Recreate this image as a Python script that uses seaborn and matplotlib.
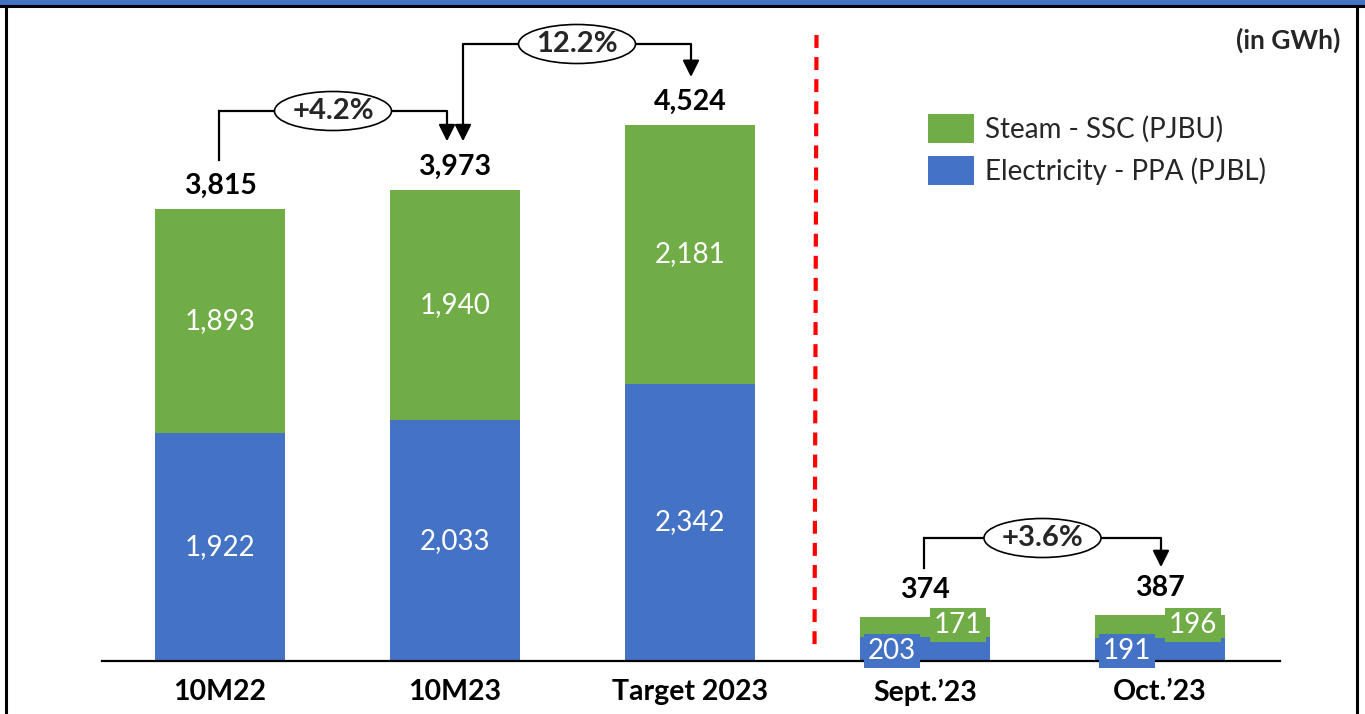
import matplotlib
matplotlib.use("Agg")
import matplotlib.pyplot as plt
import seaborn as sns
import pandas as pd
from matplotlib.patches import Rectangle, Ellipse, Patch
from matplotlib.lines import Line2D

# ---------------- data ----------------
categories = ["10M22", "10M23", "Target 2023", "Sept.'23", "Oct.'23"]
category_labels = ["10M22", "10M23", "Target 2023", "Sept.’23", "Oct.’23"]
electricity = [1922, 2033, 2342, 203, 191]
steam = [1893, 1940, 2181, 171, 196]
totals_shown = [3815, 3973, 4524, 374, 387]
growth_labels = ["+4.2%", "12.2%", "+3.6%"]
series_names = ["Steam - SSC (PJBU)", "Electricity - PPA (PJBL)"]
unit_label = "(in GWh)"

GREEN = "#70AD47"
BLUE = "#4472C4"

sns.set_theme(style="white")
plt.rcParams["font.family"] = ["Lato", "DejaVu Sans"]

W, H = 1365, 714
fig = plt.figure(figsize=(W / 100, H / 100), dpi=100)

# axes geometry in pixels
ax_left, ax_right = 102, 1280
ax_base, ax_top = 661, 20
ax = fig.add_axes([ax_left / W, (H - ax_base) / H, (ax_right - ax_left) / W, (ax_base - ax_top) / H])

px_per_cat = 235.0
units_per_px = 4524 / (661 - 125)
ymax = (ax_base - ax_top) * units_per_px
x0 = (ax_left - 220) / px_per_cat
x1 = (ax_right - 220) / px_per_cat


def ux(p):
    return p / px_per_cat


def uy(p):
    return p * units_per_px


df = pd.DataFrame({"cat": categories, "elec": electricity, "steam": steam})
df["total"] = df["elec"] + df["steam"]

bw = 130 / px_per_cat
sns.barplot(data=df, x="cat", y="total", order=categories, color=GREEN,
            saturation=1, width=bw, ax=ax, linewidth=0)
sns.barplot(data=df, x="cat", y="elec", order=categories, color=BLUE,
            saturation=1, width=bw, ax=ax, linewidth=0)

ax.set_xlim(x0, x1)
ax.set_ylim(0, ymax)
ax.set_xlabel("")
ax.set_ylabel("")
ax.set_yticks([])
ax.set_xticks(range(len(categories)))
ax.set_xticklabels(category_labels, fontsize=20.5, fontweight="bold", color="black")
ax.tick_params(axis="x", length=0, pad=13)
for s in ["top", "left", "right"]:
    ax.spines[s].set_visible(False)
ax.spines["bottom"].set_color("black")
ax.spines["bottom"].set_linewidth(1.6)
ax.patch.set_alpha(0)

# segment labels
for i, (e, s) in enumerate(zip(electricity, steam)):
    if i < 3:
        ax.text(i, e / 2, f"{e:,}", ha="center", va="center", color="white", fontsize=20)
        ax.text(i, e + s / 2, f"{s:,}", ha="center", va="center", color="white", fontsize=20)
    else:
        ax.text(i - ux(33), uy(10), f"{e:,}", ha="center", va="center", color="white", fontsize=20,
                bbox=dict(boxstyle="square,pad=0.15", fc=BLUE, ec="none"), zorder=5)
        ax.text(i + ux(33), uy(36), f"{s:,}", ha="center", va="center", color="white", fontsize=20,
                bbox=dict(boxstyle="square,pad=0.15", fc=GREEN, ec="none"), zorder=6)

# totals
for i, t in enumerate(totals_shown):
    off = 23 if i < 3 else 27
    ax.text(i, t + uy(off), f"{t:,}", ha="center", va="center", color="black",
            fontsize=20.5, fontweight="bold")


# growth brackets
def arrow_down(x, ytop, ybot):
    ax.annotate("", xy=(x, ybot), xytext=(x, ytop),
                arrowprops=dict(arrowstyle="-|>,head_length=1.0,head_width=0.5", lw=1.6,
                                color="black", shrinkA=0, shrinkB=0, mutation_scale=10), zorder=3)


def bracket(xa, ya, xb, yh, yb, label, left_arrow=False):
    ax.plot([xa, xb], [yh, yh], color="black", lw=1.6, zorder=3, solid_capstyle="butt")
    if left_arrow:
        arrow_down(xa, yh, ya)
    else:
        ax.plot([xa, xa], [ya, yh], color="black", lw=1.6, zorder=3, solid_capstyle="projecting")
    arrow_down(xb, yh, yb)
    cx = (xa + xb) / 2
    ax.add_patch(Ellipse((cx, yh), ux(117), uy(39), fc="white", ec="black", lw=1.2, zorder=4))
    ax.text(cx, yh, label, ha="center", va="center", fontsize=21, fontweight="bold", zorder=5)


tip1 = totals_shown[1] + uy(49)
bracket(0 - ux(1), totals_shown[0] + uy(49), 1 - ux(8), uy(550), tip1, growth_labels[0])
bracket(1 + ux(8), tip1, 2 + ux(1), uy(617), totals_shown[2] + uy(48), growth_labels[1], left_arrow=True)
bracket(3 - ux(1), totals_shown[3] + uy(49), 4 + ux(1), uy(123), totals_shown[4] + uy(48), growth_labels[2])

# red dashed divider
ax.plot([2.5 + ux(9), 2.5 + ux(7)], [uy(626), uy(8)], color="#FF0000", lw=3,
        dashes=(3.1, 2.2), zorder=2)

# unit label
fig.text(1340 / W, 1 - 40 / H, unit_label, ha="right", va="center", fontsize=19, fontweight="bold")

# legend
handles = [Patch(facecolor=GREEN, edgecolor="none"), Patch(facecolor=BLUE, edgecolor="none")]
fig.legend(handles, series_names, loc="upper left", bbox_to_anchor=(928 / W, 1 - 114 / H),
           frameon=False, fontsize=20, handlelength=1.65, handleheight=1.22,
           handletextpad=0.4, labelspacing=0.47, borderpad=0, borderaxespad=0)

# frame decoration
fig.add_artist(Rectangle((0, 1 - 5 / H), 1, 5 / H, transform=fig.transFigure, fc=BLUE, ec="none"))
fig.add_artist(Line2D([0, 1], [1 - 6 / H, 1 - 6 / H], transform=fig.transFigure, color="black", lw=2.2))
fig.add_artist(Line2D([6 / W, 6 / W], [0, 1 - 6 / H], transform=fig.transFigure, color="black", lw=2.2))
fig.add_artist(Line2D([1357 / W, 1357 / W], [0, 1 - 6 / H], transform=fig.transFigure, color="black", lw=2.2))

fig.savefig("out.png", dpi=100)
